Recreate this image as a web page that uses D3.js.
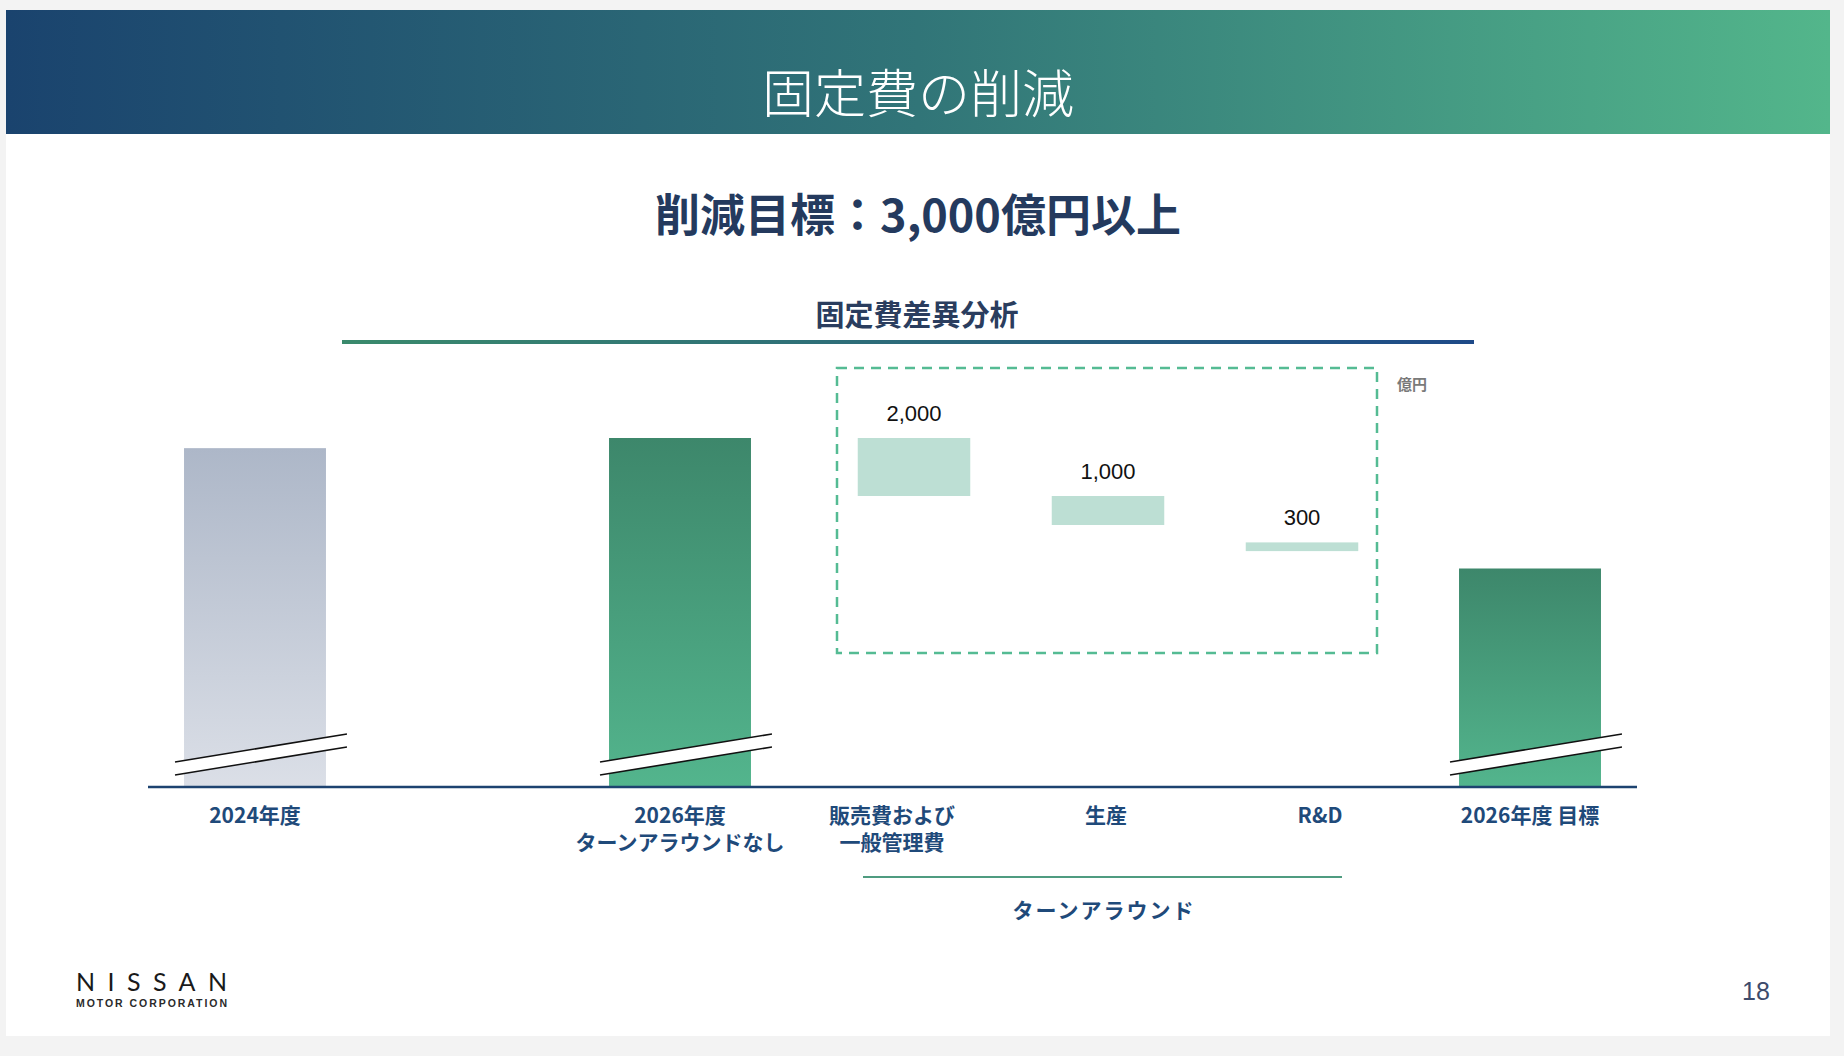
<!DOCTYPE html>
<html><head><meta charset="utf-8">
<script src="https://cdn.jsdelivr.net/npm/d3@7"></script>
<style>
body{margin:0;background:#f3f3f3;}
svg{display:block}
</style>
</head><body>
<svg id="chart" width="1844" height="1056"></svg>
<script>
// ---- data (億円, axis broken below axisBreakValue) ----
const mainCategories = ["2024年度", "2026年度\nターンアラウンドなし", "ターンアラウンド", "2026年度 目標"];
const mainValues = [23650, 24000, null, 19500];
const mainStyles = ["gray", "green", null, "green"];
const deltaCategories = ["販売費および\n一般管理費", "生産", "R&D"];
const deltaStarts = [24000, 22000, 20400];
const deltaValues = [2000, 1000, 300];
const deltaLabels = ["2,000", "1,000", "300"];
const axisBreakValue = 12000;
const unitLabel = "億円";
const pageTitle = "固定費の削減";
const subTitle = "削減目標：3,000億円以上";
const chartTitle = "固定費差異分析";
const groupLabel = "ターンアラウンド";

const svg = d3.select("#chart");
const JP = "'Noto Sans CJK JP','Noto Sans',sans-serif";
const NAVY = "#1f4a7a";

const defs = svg.append("defs");
function lg(id, x2, y2, stops){
  const g = defs.append("linearGradient").attr("id", id)
    .attr("x1",0).attr("y1",0).attr("x2",x2).attr("y2",y2);
  stops.forEach(s => g.append("stop").attr("offset", s[0]).attr("stop-color", s[1]));
}
lg("hdr", 1, 0, [[0,"#1a436e"],[0.5,"#317578"],[1,"#53b68b"]]);
lg("rule", 1, 0, [[0,"#3a8a6c"],[1,"#1e4a88"]]);
lg("gray", 0, 1, [[0,"#adb7c8"],[1,"#dbdfe7"]]);
lg("green", 0, 1, [[0,"#3d876b"],[1,"#53b58d"]]);

// slide
svg.append("rect").attr("x",6).attr("y",10).attr("width",1824).attr("height",1026).attr("fill","#ffffff");
svg.append("rect").attr("x",6).attr("y",10).attr("width",1824).attr("height",124).attr("fill","url(#hdr)");
svg.append("text").attr("x",918).attr("y",113).attr("text-anchor","middle")
  .attr("font-family",JP).attr("font-weight",300).attr("font-size",52).attr("fill","#fff").text(pageTitle);

svg.append("text").attr("x",918).attr("y",232).attr("text-anchor","middle")
  .attr("font-family",JP).attr("font-weight",700).attr("font-size",45).attr("fill","#243a5e").text(subTitle);

svg.append("text").attr("x",917).attr("y",326).attr("text-anchor","middle")
  .attr("font-family",JP).attr("font-weight",700).attr("font-size",29).attr("fill","#2a3d5e").text(chartTitle);
svg.append("rect").attr("x",342).attr("y",340).attr("width",1132).attr("height",4).attr("fill","url(#rule)");

// scales
const x = d3.scaleBand().domain(mainCategories).range([42.5, 1742.5]).paddingInner(0.666).paddingOuter(0.333);
const y = d3.scaleLinear().domain([axisBreakValue, 24000]).range([786, 438]);
const tc = x("ターンアラウンド") + x.bandwidth()/2 + 2;
const xd = d3.scaleBand().domain(deltaCategories).range([tc - 290, tc + 292]).paddingInner(0.42).paddingOuter(0.21);
const xl = d3.scalePoint().domain(deltaCategories).range([tc - 215, tc + 213]);

// dashed box
svg.append("rect").attr("x", tc - 270).attr("y", 368).attr("width", 540).attr("height", 285)
  .attr("fill","none").attr("stroke","#55bb93").attr("stroke-width",2.5).attr("stroke-dasharray","10,7");
svg.append("text").attr("x", tc + 290).attr("y", 390).attr("font-family",JP).attr("font-weight",700)
  .attr("font-size",15).attr("fill","#7a7a7a").text(unitLabel);

// main bars
const mainData = mainCategories.map((c,i)=>({c, v: mainValues[i], s: mainStyles[i]})).filter(d=>d.v!==null);
svg.append("g").selectAll("rect").data(mainData).join("rect")
  .attr("x", d=>x(d.c)).attr("width", x.bandwidth())
  .attr("y", d=>y(d.v)).attr("height", d=>y(axisBreakValue)+2 - y(d.v))
  .attr("fill", d=>`url(#${d.s})`);

// axis-break bands
const brk = svg.append("g").selectAll("g").data(mainData).join("g");
brk.append("path").attr("d", d=>{
  const x0 = x(d.c)-9, x1 = x(d.c)+x.bandwidth()+21, b = y(axisBreakValue);
  return `M${x0},${b-24} L${x1},${b-52} L${x1},${b-39} L${x0},${b-11} Z`;
}).attr("fill","#fff");
[0,13].forEach(off=>{
  brk.append("line")
    .attr("x1", d=>x(d.c)-9).attr("y1", y(axisBreakValue)-24+off)
    .attr("x2", d=>x(d.c)+x.bandwidth()+21).attr("y2", y(axisBreakValue)-52+off)
    .attr("stroke","#111").attr("stroke-width",1.6);
});

// delta bars
const deltaData = deltaCategories.map((c,i)=>({c, s: deltaStarts[i], v: deltaValues[i], l: deltaLabels[i]}));
svg.append("g").selectAll("rect").data(deltaData).join("rect")
  .attr("x", d=>xd(d.c)).attr("width", xd.bandwidth())
  .attr("y", d=>y(d.s)).attr("height", d=>y(d.s - d.v) - y(d.s))
  .attr("fill","#bddfd4");
svg.append("g").selectAll("text").data(deltaData).join("text")
  .attr("x", d=>xd(d.c)+xd.bandwidth()/2).attr("y", d=>y(d.s)-17)
  .attr("text-anchor","middle").attr("font-family","'Liberation Sans',Arial,sans-serif")
  .attr("font-size",22).attr("fill","#111").text(d=>d.l);

// axis line
svg.append("line").attr("x1",148).attr("x2",1637).attr("y1",787).attr("y2",787)
  .attr("stroke","#1d4370").attr("stroke-width",2.5);

// category labels
function multi(sel, txt){
  txt.split("\n").forEach((t,i)=>sel.append("tspan").attr("x", sel.attr("x")).attr("dy", i===0?0:27).text(t));
}
mainData.forEach(d=>{
  const t = svg.append("text").attr("x", x(d.c)+x.bandwidth()/2).attr("y",823).attr("text-anchor","middle")
    .attr("font-family",JP).attr("font-weight",700).attr("font-size",21).attr("fill",NAVY);
  multi(t, d.c);
});
deltaData.forEach(d=>{
  const t = svg.append("text").attr("x", xl(d.c)).attr("y",823).attr("text-anchor","middle")
    .attr("font-family",JP).attr("font-weight",700).attr("font-size",21).attr("fill",NAVY);
  multi(t, d.c);
});

// group bracket
svg.append("line").attr("x1", tc-244).attr("x2", tc+235).attr("y1",877).attr("y2",877)
  .attr("stroke","#4f9c80").attr("stroke-width",2);
svg.append("text").attr("x", tc-3).attr("y",918).attr("text-anchor","middle")
  .attr("font-family",JP).attr("font-weight",700).attr("font-size",21).attr("letter-spacing",2).attr("fill",NAVY).text(groupLabel);

// logo + page number
svg.append("text").attr("x",76).attr("y",991).attr("font-family","Lato,'Liberation Sans',sans-serif")
  .attr("font-weight",400).attr("font-size",25).attr("textLength",151).attr("lengthAdjust","spacing")
  .attr("fill","#1a1a1a").text("NISSAN");
svg.append("text").attr("x",76).attr("y",1007).attr("font-family","'Liberation Sans',Arial,sans-serif")
  .attr("font-weight",700).attr("font-size",10.5).attr("textLength",151).attr("lengthAdjust","spacing")
  .attr("fill","#2a2a2a").text("MOTOR CORPORATION");
svg.append("text").attr("x",1756).attr("y",1000).attr("text-anchor","middle")
  .attr("font-family","'Liberation Sans',Arial,sans-serif").attr("font-size",25).attr("fill","#3d4b6b").text("18");
</script>
</body></html>
